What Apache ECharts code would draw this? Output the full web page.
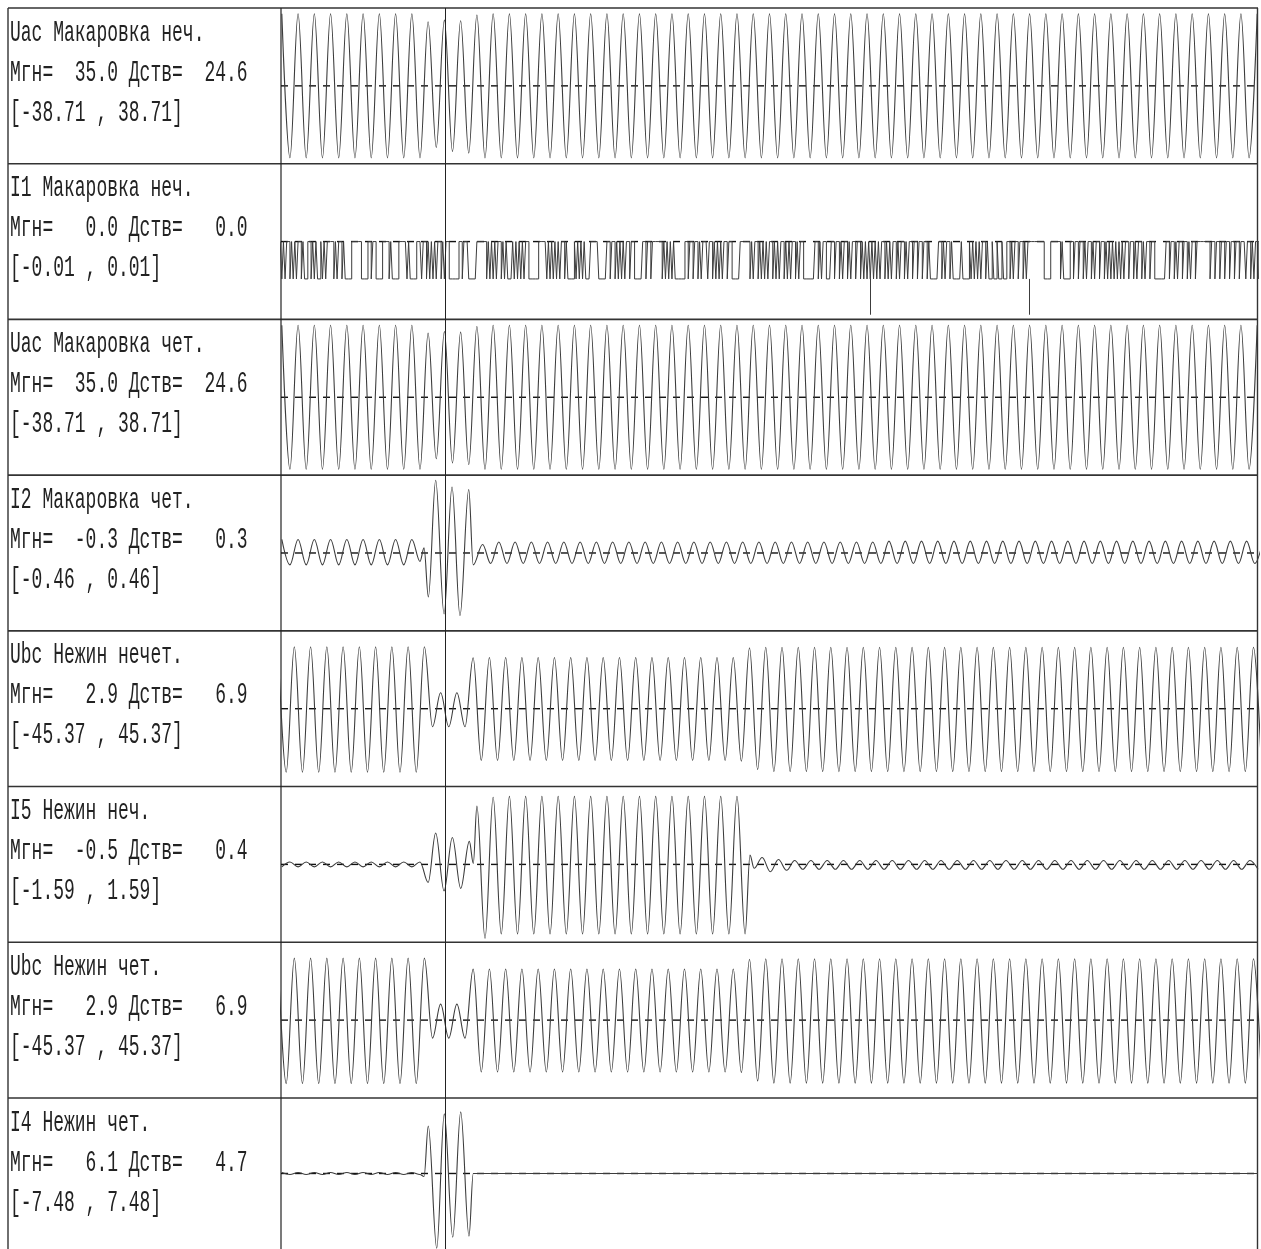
<!DOCTYPE html>
<html><head><meta charset="utf-8">
<script src="https://cdn.jsdelivr.net/npm/echarts@6/dist/echarts.min.js"></script>
<style>html,body{margin:0;padding:0;background:#fff}#c{width:1261px;height:1249px}</style>
</head><body><div id="c"></div><script>
// ---------------- DATA ----------------
// time axis in ms, one half-cycle = 10 ms
const timeMinMs = -1, timeMaxMs = 1201;
const cursorMs = 201.5;

// channel labels
const titles = ['Uac Макаровка неч.','I1 Макаровка неч.','Uac Макаровка чет.','I2 Макаровка чет.',
                'Ubc Нежин нечет.','I5 Нежин неч.','Ubc Нежин чет.','I4 Нежин чет.'];
const instValues = ['35.0','0.0','35.0','-0.3','2.9','-0.5','2.9','6.1'];
const rmsValues  = ['24.6','0.0','24.6','0.3','6.9','0.4','6.9','4.7'];
const ranges     = [38.71, 0.01, 38.71, 0.46, 45.37, 1.59, 45.37, 7.48];

// Uac: half-cycle extremes every 10 ms from t = 0
const uacStartMs = 0;
const uacPeaks = [
 35.8,-35.8,35.8,-35.8,35.8,-35.8,35.8,-35.8,35.8,-35.8,
 35.8,-35.8,35.8,-35.8,35.8,-35.8,35.8,-35.8,31.9,-30.6,
 32.7,-32.6,32.4,-33.4,35.2,-35.8,35.8,-35.8,35.8,-35.8,
 35.8,-35.8,35.8,-35.8,35.8,-35.8,35.8,-35.8,35.8,-35.8,
 35.8,-35.8,35.8,-35.8,35.8,-35.8,35.8,-35.8,35.8,-35.8,
 35.8,-35.8,35.8,-35.8,35.8,-35.8,35.8,-35.8,35.8,-35.8,
 35.8,-35.8,35.8,-35.8,35.8,-35.8,35.8,-35.8,35.8,-35.8,
 35.8,-35.8,35.8,-35.8,35.8,-35.8,35.8,-35.8,35.8,-35.8,
 35.8,-35.8,35.8,-35.8,35.8,-35.8,35.8,-35.8,35.8,-35.8,
 35.8,-35.8,35.8,-35.8,35.8,-35.8,35.8,-35.8,35.8,-35.8,
 35.8,-35.8,35.8,-35.8,35.8,-35.8,35.8,-35.8,35.8,-35.8,
 35.8,-35.8,35.8,-35.8,35.8,-35.8,35.8,-35.8,35.8,-35.8,
 35.8
];

// Ubc: half-cycle extremes every 10 ms from t = -4.6
const ubcStartMs = -4.6;
const ubcPeaks = [
 36.1,-37.0,36.1,-37.0,36.1,-37.0,36.1,-37.0,36.1,-37.0,
 36.1,-37.0,36.1,-37.0,36.1,-37.0,36.1,-37.0,36.1,-10.5,
 9.3,-10.5,9.3,-10.5,29.7,-30.2,29.8,-30.2,29.8,-30.2,
 29.8,-30.2,29.8,-30.2,29.8,-30.2,29.8,-30.2,29.8,-30.2,
 29.8,-30.2,29.8,-30.2,29.8,-30.2,29.8,-30.2,29.8,-30.2,
 29.8,-30.2,29.8,-30.2,29.8,-30.2,29.8,-30.6,35.5,-35.5,
 35.8,-36.7,35.8,-36.7,35.8,-36.7,35.8,-36.7,35.8,-36.7,
 35.8,-36.7,35.8,-36.7,35.8,-36.7,35.8,-36.7,35.8,-36.7,
 35.8,-36.7,35.8,-36.7,35.8,-36.7,35.8,-36.7,35.8,-36.7,
 35.8,-36.7,35.8,-36.7,35.8,-36.7,35.8,-36.7,35.8,-36.7,
 35.8,-36.7,35.8,-36.7,35.8,-36.7,35.8,-36.7,35.8,-36.7,
 35.8,-36.7,35.8,-36.7,35.8,-36.7,35.8,-36.7,35.8,-36.7,
 35.8,-36.7
];

// I2
const i2PreStartMs = 0;
const i2PrePeaks = [0.08,-0.07,0.08,-0.07,0.08,-0.07,0.08,-0.07,0.08,-0.07,0.08,-0.07,0.08,-0.07,0.08,-0.07,0.08,-0.05];
const i2FaultPoints = [[175,0.03],[180.3,-0.26],[189.3,0.43],[199.6,-0.36],[209.4,0.39],[219.2,-0.37],[230,0.375],[235.5,-0.07]];
const i2PostStartMs = 247;
const i2PostPeaks = [
 0.05,-0.062,0.065,-0.062,0.065,-0.062,0.065,-0.062,0.065,-0.062,
 0.065,-0.062,0.065,-0.062,0.065,-0.062,0.065,-0.062,0.065,-0.062,
 0.065,-0.062,0.065,-0.062,0.065,-0.062,0.065,-0.062,0.065,-0.062,
 0.065,-0.062,0.065,-0.062,0.065,-0.062,0.065,-0.062,0.065,-0.062,
 0.065,-0.062,0.065,-0.062,0.065,-0.062,0.065,-0.062,0.065,-0.062,
 0.07,-0.062,0.07,-0.062,0.07,-0.062,0.07,-0.062,0.07,-0.062,
 0.07,-0.062,0.07,-0.062,0.07,-0.062,0.07,-0.062,0.07,-0.062,
 0.07,-0.062,0.07,-0.062,0.07,-0.062,0.07,-0.062,0.07,-0.062,
 0.07,-0.062,0.07,-0.062,0.07,-0.062,0.07,-0.062,0.07,-0.062,
 0.07,-0.062,0.07,-0.062,0.07,-0.062,0.07
];

// I5
const i5PreStartMs = 0;
const i5PrePeaks = [-0.05,0.05,-0.05,0.05,-0.05,0.05,-0.05,0.05,-0.05,0.05,-0.05,0.05,-0.05,0.05,-0.05,0.05,-0.05,0.05];
const i5FaultPoints = [[180,-0.37],[189.3,0.64],[199.6,-0.54],[209.8,0.55],[220.1,-0.49],[230.7,0.47],[235.6,0.02]];
const i5BigStartMs = 240;
const i5BigPeaks = [
 1.19,-1.51,1.37,-1.42,1.39,-1.42,1.39,-1.42,1.39,-1.42,
 1.39,-1.42,1.39,-1.42,1.39,-1.42,1.39,-1.42,1.39,-1.42,
 1.39,-1.42,1.39,-1.42,1.39,-1.42,1.39,-1.42,1.39,-1.42,
 1.39,-1.42,1.39,-1.42
];
const i5TailPoints = [[576,0.19]];
const i5PostStartMs = 581;
const i5PostPeaks = [
 -0.08,0.14,-0.15,0.10,-0.12,0.08,-0.10,0.08,-0.10,0.08,
 -0.10,0.08,-0.10,0.08,-0.10,0.08,-0.10,0.08,-0.10,0.08,
 -0.10,0.08,-0.10,0.08,-0.10,0.08,-0.10,0.08,-0.10,0.08,
 -0.10,0.08,-0.10,0.08,-0.10,0.08,-0.10,0.08,-0.10,0.08,
 -0.10,0.08,-0.10,0.08,-0.10,0.08,-0.10,0.08,-0.10,0.08,
 -0.10,0.08,-0.10,0.08,-0.10,0.08,-0.10,0.08,-0.10,0.08,
 -0.10,0.08,-0.10
];

// I4
const i4PreStartMs = 0;
const i4PrePeaks = [0.1,-0.1,0.1,-0.1,0.1,-0.1,0.1,-0.1,0.1,-0.1,0.1,-0.1,0.1,-0.1,0.1,-0.1,0.1,-0.1];
const i4FaultPoints = [[175,-0.3],[180.2,4.7],[190.6,-7.4],[199.9,5.9],[210.3,-6.3],[220.1,6.1],[230.3,-6.2],[235.5,0]];
const i4PostPoints = [[240,0],[1201,0]];

// I1 digital-looking trace: one character per 2 ms sample, '1' = upper level, '0' = lower level
const i1StartMs = -2, i1SampleMs = 2;
const i1High = 0, i1Low = -0.0048;
const i1Bits = [
 '1010110101011010011010100','101011110101101000011111','100001101100001111010000',
 '111110100001110110101010','110101100000011011100000','111111010101011010100010',
 '101010110000001111101010','101011010000101010100011','111000001101101010101101',
 '100000110110111111010101','010000001101101101011101','101010101101100000111111010110',
 '1010101101010110101011010','110000000110101100011011','010110101101101010101010',
 '101101010110101101011011','011011010000011010110100','000100001010101011010010',
 '010010011010110110101111','111111000011111101000011','011011010110101101101010',
 '101010101101101011010110','110000000110110101101101','01101111111101101101101101101101',
 '1101101011010110101100000110101101'
];
const i1SpikeTimesMs = [724.5, 919.3];
const i1SpikeLevel = -0.0094;

// ---------------- BUILD ----------------
function regular(t0, step, vals) { return vals.map((v, j) => [+(t0 + j * step).toFixed(2), v]); }
function merge(...parts) { return [].concat(...parts).sort((a, b) => a[0] - b[0]); }

const traces = [
  merge(regular(uacStartMs, 10, uacPeaks)),
  null,
  merge(regular(uacStartMs, 10, uacPeaks)),
  merge(regular(i2PreStartMs, 10, i2PrePeaks), i2FaultPoints, regular(i2PostStartMs, 10, i2PostPeaks)),
  merge(regular(ubcStartMs, 10, ubcPeaks)),
  merge(regular(i5PreStartMs, 10, i5PrePeaks), i5FaultPoints, regular(i5BigStartMs, 10, i5BigPeaks), i5TailPoints, regular(i5PostStartMs, 10, i5PostPeaks)),
  merge(regular(ubcStartMs, 10, ubcPeaks)),
  merge(regular(i4PreStartMs, 10, i4PrePeaks), i4FaultPoints, i4PostPoints)
];
const bits = i1Bits.join('');
const i1Data = [];
for (let i = 0; i < bits.length; i++) i1Data.push([i1StartMs + i * i1SampleMs, bits[i] === '1' ? i1High : i1Low]);

// ---------------- LAYOUT ----------------
const frameLeft = 8, plotLeft = 281, plotRight = 1258, topY = 8, panelH = 155.71, canvasH = 1249;
const FONT = '"Liberation Mono", "DejaVu Sans Mono", monospace';
const TRACE = '#3c3c3c';

const grid = [], xAxis = [], yAxis = [], series = [], graphic = [];
for (let i = 0; i < 8; i++) {
  const top = topY + i * panelH;
  grid.push({ left: plotLeft, top: top, width: plotRight - plotLeft, height: panelH, show: false });
  xAxis.push({ gridIndex: i, type: 'value', min: timeMinMs, max: timeMaxMs, show: false });
  yAxis.push({ gridIndex: i, type: 'value', min: -ranges[i], max: ranges[i], show: false });
  series.push({
    type: 'line', xAxisIndex: i, yAxisIndex: i, data: [[timeMinMs, 0], [timeMaxMs, 0]],
    symbol: 'none', silent: true, z: 1,
    lineStyle: { color: '#111', width: 1.4, type: [7, 7] },
    markLine: { silent: true, symbol: 'none', label: { show: false }, animation: false,
      lineStyle: { color: '#222', width: 1, type: 'solid' }, data: [{ xAxis: cursorMs }] }
  });
  if (i === 1) {
    series.push({
      type: 'line', xAxisIndex: i, yAxisIndex: i, data: i1Data, step: 'end', symbol: 'none', z: 2,
      lineStyle: { color: TRACE, width: 1 },
      markLine: { silent: true, symbol: 'none', label: { show: false }, animation: false,
        lineStyle: { color: TRACE, width: 1, type: 'solid' },
        data: i1SpikeTimesMs.map(t => [{ coord: [t, i1Low] }, { coord: [t, i1SpikeLevel] }]) }
    });
  } else {
    series.push({
      type: 'line', xAxisIndex: i, yAxisIndex: i, data: traces[i], symbol: 'none', z: 2,
      smooth: 0.36, smoothMonotone: 'x',
      lineStyle: { color: TRACE, width: 1.1 }
    });
  }
  // texts
  const pad = s => (' '.repeat(6) + s).slice(-6);
  const lines = [titles[i], 'Мгн=' + pad(instValues[i]) + ' Дств=' + pad(rmsValues[i]),
    '[-' + ranges[i].toFixed(2) + ' , ' + ranges[i].toFixed(2) + ']'];
  const rel = [25, 65, 105];
  lines.forEach((t, k) => graphic.push({ type: 'text', x: 10, y: top + rel[k], scaleY: 1.6, silent: true,
    style: { text: t, font: '18px ' + FONT, fill: '#222', verticalAlign: 'middle', align: 'left' } }));
  // frame horizontal line
  graphic.push({ type: 'line', silent: true, shape: { x1: frameLeft, y1: top, x2: plotRight, y2: top },
    style: { stroke: '#333', lineWidth: 1.6 } });
}
graphic.push({ type: 'line', silent: true, shape: { x1: frameLeft, y1: topY, x2: frameLeft, y2: canvasH }, style: { stroke: '#333', lineWidth: 1.4 } });
graphic.push({ type: 'line', silent: true, shape: { x1: plotLeft, y1: topY, x2: plotLeft, y2: canvasH }, style: { stroke: '#222', lineWidth: 1.2 } });
graphic.push({ type: 'line', silent: true, shape: { x1: plotRight - 0.5, y1: topY, x2: plotRight - 0.5, y2: canvasH }, style: { stroke: '#333', lineWidth: 1.4 } });

const chart = echarts.init(document.getElementById('c'), null, { renderer: 'canvas' });
chart.setOption({ animation: false, backgroundColor: '#fff', grid, xAxis, yAxis, series, graphic });
</script></body></html>
